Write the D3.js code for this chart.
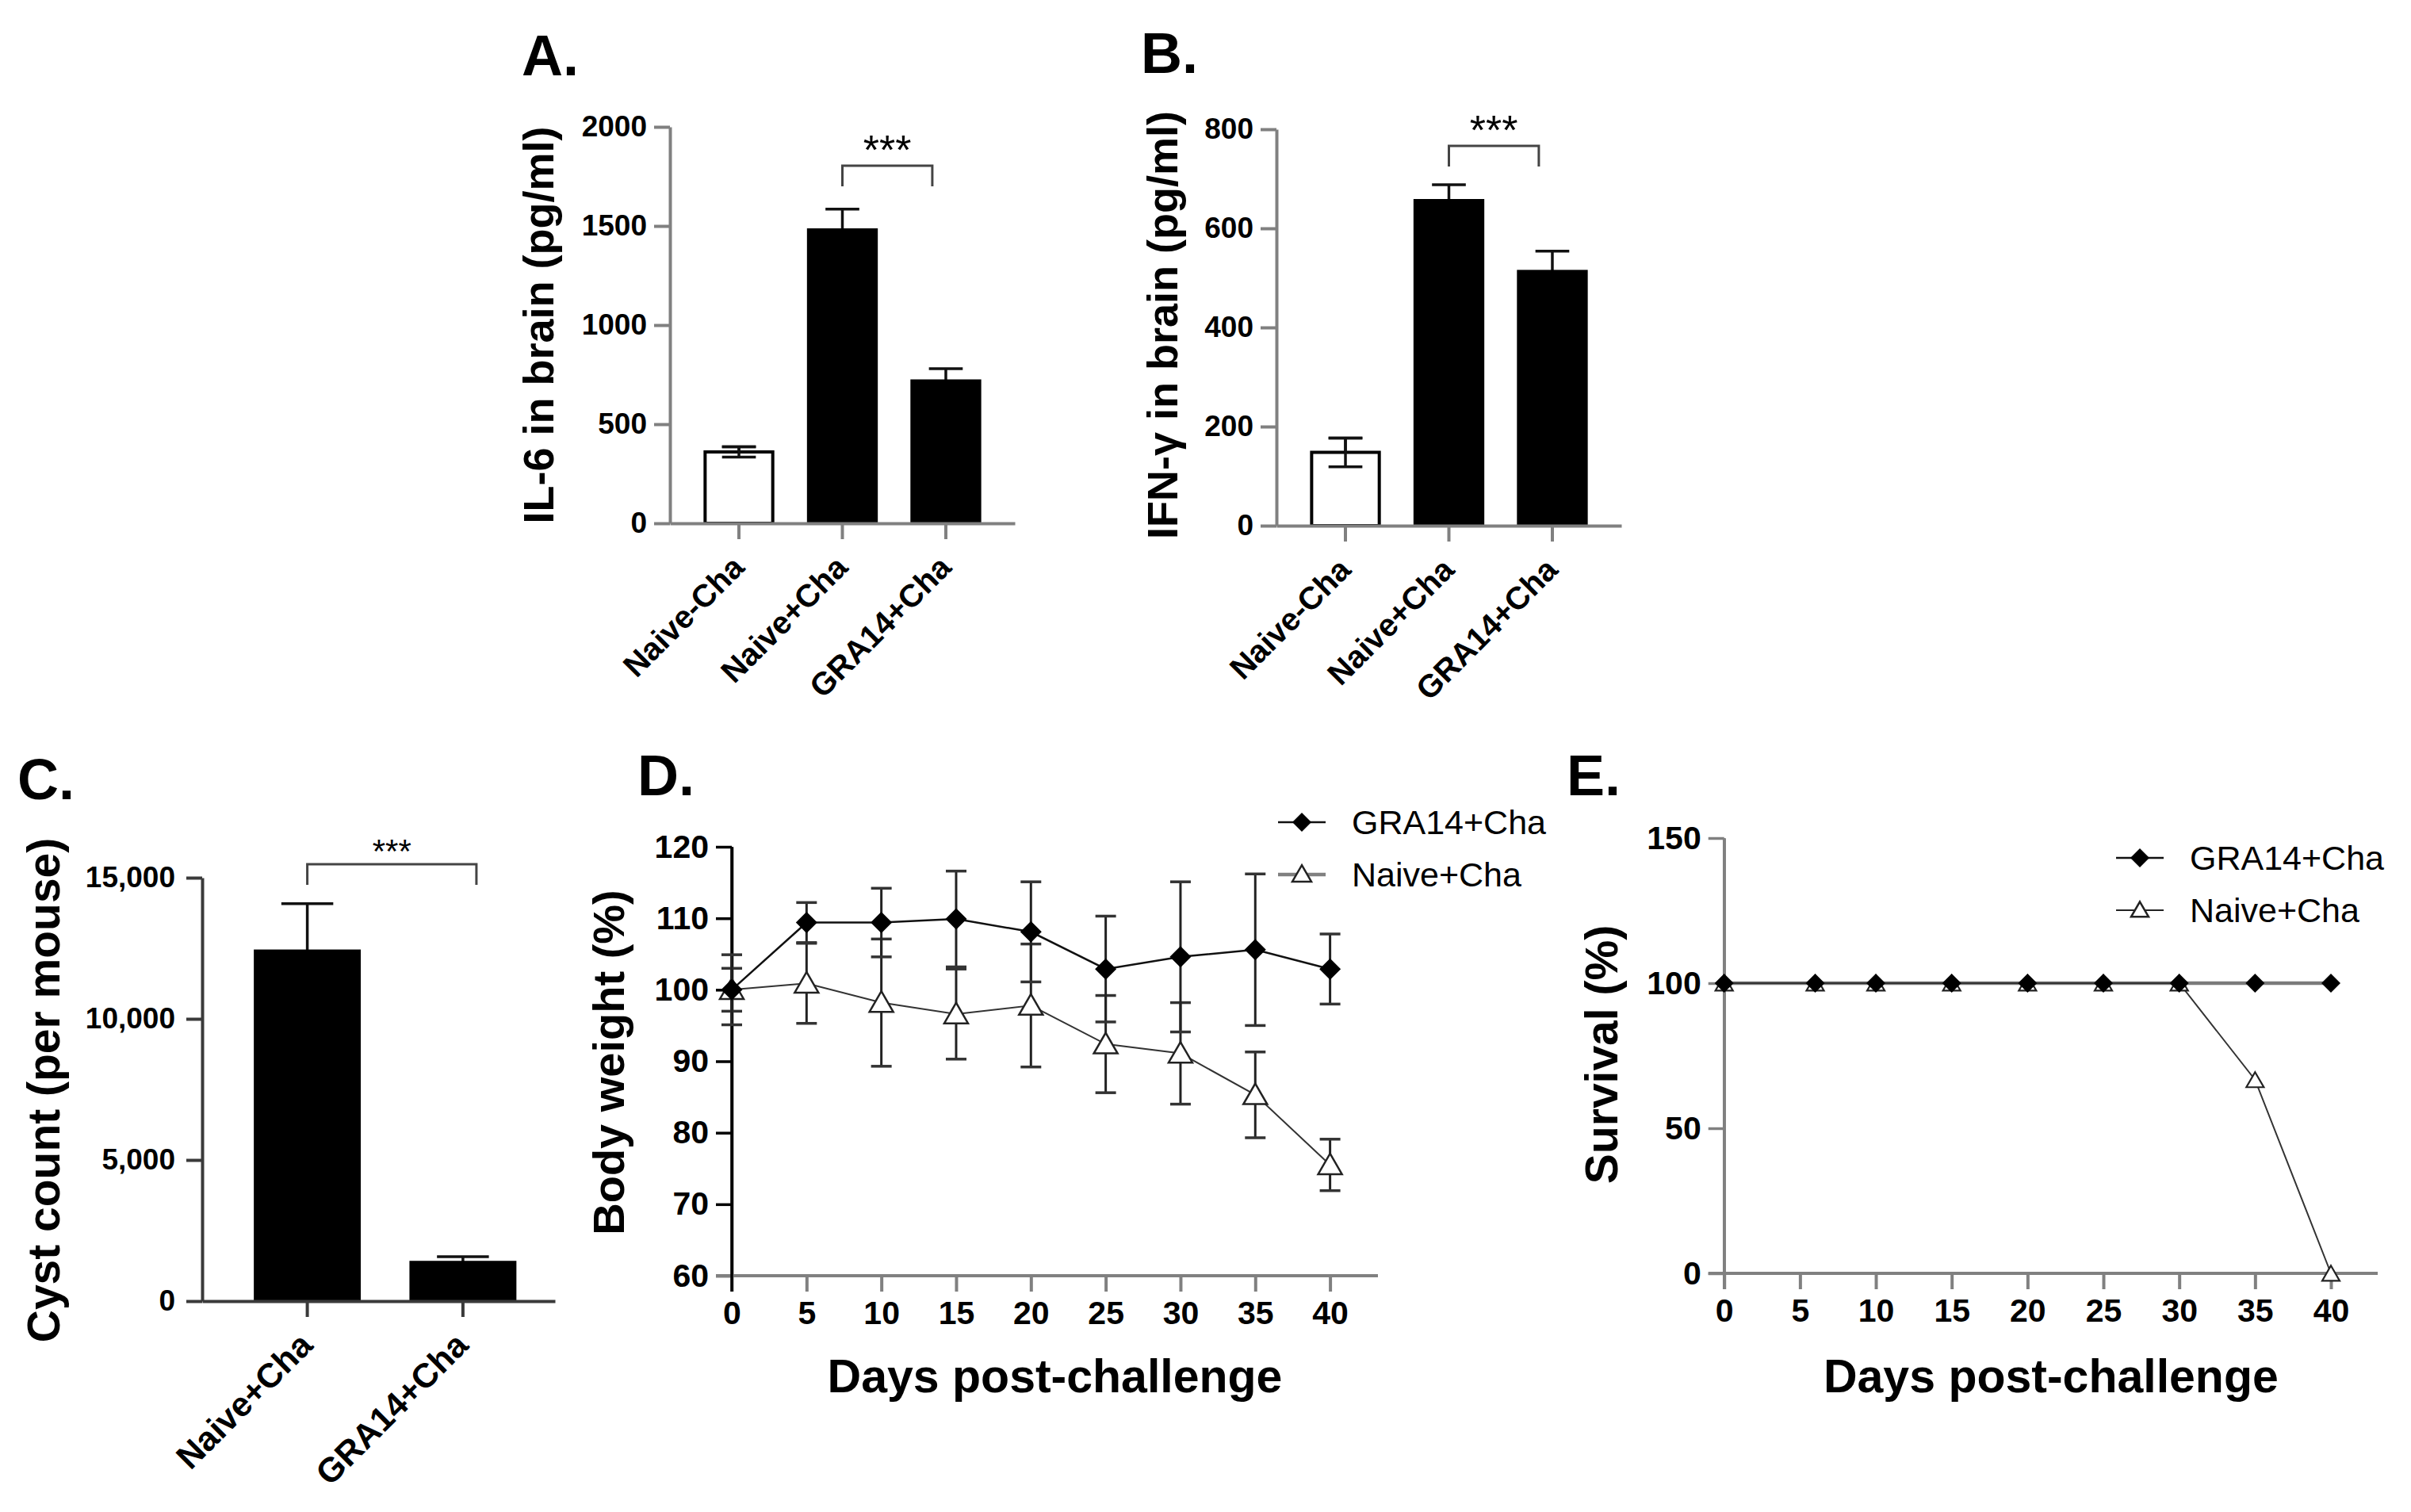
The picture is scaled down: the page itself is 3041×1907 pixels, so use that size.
<!DOCTYPE html>
<html>
<head>
<meta charset="utf-8">
<script src="https://cdn.jsdelivr.net/npm/d3@7.9.0/dist/d3.min.js"></script>
<style>
  html, body { margin: 0; padding: 0; background: #fff; }
  svg text { font-family: "Liberation Sans", Arial, sans-serif; fill: #000; }
</style>
</head>
<body>
<svg id="fig" width="3041" height="1907"></svg>
<script>
// ---- data ----
const groupsAB = ['Naive-Cha', 'Naive+Cha', 'GRA14+Cha'];
const il6Mean = [360, 1480, 718];
const il6Sem = [26, 105, 62];
const il6Ticks = [0, 500, 1000, 1500, 2000];

const ifnMean = [148, 656, 513];
const ifnSem = [29, 32, 41];
const ifnTicks = [0, 200, 400, 600, 800];

const cystGroups = ['Naive+Cha', 'GRA14+Cha'];
const cystMean = [12400, 1370];
const cystSem = [1680, 200];
const cystTicks = [0, 5000, 10000, 15000];

const weightDays = [0, 5, 10, 15, 20, 25, 30, 35, 40];
const weightGra14 = [100, 109.4, 109.4, 109.9, 108.1, 102.9, 104.6, 105.6, 102.9];
const weightGra14Sem = [4.9, 2.8, 4.8, 6.7, 7.0, 7.4, 10.5, 10.6, 4.9];
const weightNaive = [100, 100.9, 98.2, 96.6, 97.8, 92.4, 91.1, 85.3, 75.5];
const weightNaiveSem = [3.0, 5.6, 8.9, 6.3, 8.6, 6.8, 7.1, 6.0, 3.6];
const weightTicks = [60, 70, 80, 90, 100, 110, 120];

const survDays = [0, 6, 10, 15, 20, 25, 30, 35, 40];
const survGra14 = [100, 100, 100, 100, 100, 100, 100, 100, 100];
const survNaive = [100, 100, 100, 100, 100, 100, 100, 66.7, 0];
const survTicks = [0, 50, 100, 150];

const dayTicks = [0, 5, 10, 15, 20, 25, 30, 35, 40];
const seriesNames = ['GRA14+Cha', 'Naive+Cha'];

const svg = d3.select('#fig');
const GREY = '#808080';

function panelLabel(txt, x, y) {
  svg.append('text').attr('x', x).attr('y', y)
    .attr('font-size', 72).attr('font-weight', 'bold').text(txt);
}

function yTitle(txt, x, y, size) {
  svg.append('text')
    .attr('transform', `translate(${x},${y}) rotate(-90)`)
    .attr('text-anchor', 'middle')
    .attr('font-size', size).attr('font-weight', 'bold').text(txt);
}

function styleAxis(g, color, width, fontSize) {
  g.selectAll('.domain').attr('stroke', color).attr('stroke-width', width);
  g.selectAll('.tick line').attr('stroke', color).attr('stroke-width', width);
  g.selectAll('.tick text').attr('font-size', fontSize).attr('font-weight', 'bold').attr('fill', '#000');
}

// ---- bar panels ----
function errorBar(g, cx, hi, lo, half) {
  g.append('line').attr('x1', cx).attr('x2', cx).attr('y1', hi).attr('y2', lo)
    .attr('stroke', '#111').attr('stroke-width', 3.5);
  [hi, lo].forEach(v => g.append('line')
    .attr('x1', cx - half).attr('x2', cx + half).attr('y1', v).attr('y2', v)
    .attr('stroke', '#111').attr('stroke-width', 3.5));
}

function barPanel(o) {
  const x = d3.scaleBand().domain(o.groups).range([o.left, o.right])
    .paddingInner(o.pi).paddingOuter(o.po).align(o.align ?? 0.5);
  const y = d3.scaleLinear().domain([0, o.max]).range([o.bottom, o.top]);
  const g = svg.append('g');
  const bw = x.bandwidth();

  // error bars first, the black bars hide their lower half
  o.groups.forEach((name, i) => errorBar(g, x(name) + bw / 2,
    y(o.means[i] + o.sems[i]), y(o.means[i] - o.sems[i]), bw / 4));

  g.selectAll('rect.bar').data(o.groups).join('rect')
    .attr('class', 'bar')
    .attr('x', d => x(d))
    .attr('width', bw)
    .attr('y', (d, i) => y(o.means[i]))
    .attr('height', (d, i) => y(0) - y(o.means[i]))
    .attr('fill', (d, i) => o.fills[i])
    .attr('stroke', '#000').attr('stroke-width', 4);

  // white bar: its error bar shows over the fill
  o.groups.forEach((name, i) => {
    if (o.fills[i] !== '#fff') return;
    errorBar(g, x(name) + bw / 2, y(o.means[i] + o.sems[i]), y(o.means[i] - o.sems[i]), bw / 4);
  });

  const ya = g.append('g').attr('transform', `translate(${o.left},0)`)
    .call(d3.axisLeft(y).tickValues(o.ticks).tickFormat(o.fmt).tickSize(20).tickSizeOuter(0).tickPadding(o.tickPad));
  styleAxis(ya, o.axisColor, 4, 37);

  const xa = g.append('g').attr('transform', `translate(0,${o.bottom})`)
    .call(d3.axisBottom(x).tickSize(20).tickSizeOuter(0));
  styleAxis(xa, o.axisColor, 4, o.xFont);
  xa.selectAll('.tick text')
    .attr('y', null).attr('dy', null)
    .attr('text-anchor', 'end')
    .attr('transform', 'translate(9,58) rotate(-45)');

  // significance bracket
  const b = o.bracket;
  const bx1 = x(b.from) + bw / 2;
  const bx2 = x(b.to) + bw * b.toFrac;
  g.append('path')
    .attr('d', `M${bx1},${b.y + 26}V${b.y}H${bx2}V${b.y + 26}`)
    .attr('fill', 'none').attr('stroke', '#444').attr('stroke-width', 3);
  g.append('text').attr('x', (bx1 + bx2) / 2).attr('y', b.y - 2)
    .attr('text-anchor', 'middle').attr('font-size', b.size).text('***');

  return { x, y };
}

barPanel({
  groups: groupsAB, means: il6Mean, sems: il6Sem, ticks: il6Ticks, fmt: d3.format('d'),
  left: 845, right: 1280, top: 160, bottom: 660, max: 2000,
  pi: 0.346, po: 0.34, fills: ['#fff', '#000', '#000'], axisColor: GREY, tickPad: 9, xFont: 40,
  bracket: { from: 'Naive+Cha', to: 'GRA14+Cha', toFrac: 0.3, y: 209, size: 52 }
});
panelLabel('A.', 658, 95);
yTitle('IL-6 in brain (pg/ml)', 698, 410, 54);

barPanel({
  groups: groupsAB, means: ifnMean, sems: ifnSem, ticks: ifnTicks, fmt: d3.format('d'),
  left: 1610, right: 2045, top: 163, bottom: 663, max: 800,
  pi: 0.346, po: 0.34, fills: ['#fff', '#000', '#000'], axisColor: GREY, tickPad: 9, xFont: 40,
  bracket: { from: 'Naive+Cha', to: 'GRA14+Cha', toFrac: 0.3, y: 184, size: 52 }
});
panelLabel('B.', 1439, 92);
yTitle('IFN-γ in brain (pg/ml)', 1485, 410, 54);

barPanel({
  groups: cystGroups, means: cystMean, sems: cystSem, ticks: cystTicks, fmt: d3.format(','),
  left: 255, right: 700, top: 1107, bottom: 1641, max: 15000,
  pi: 0.333, po: 0.3, align: 0.57, fills: ['#000', '#000'], axisColor: '#3a3a3a', tickPad: 14, xFont: 43,
  bracket: { from: 'Naive+Cha', to: 'GRA14+Cha', toFrac: 0.63, y: 1090, size: 42 }
});
panelLabel('C.', 22, 1008);
yTitle('Cyst count (per mouse)', 75, 1375, 57);

// ---- line panels ----
function diamond(g, cx, cy, d) {
  g.append('path')
    .attr('d', d3.symbol(d3.symbolSquare, d * d / 2)())
    .attr('transform', `translate(${cx},${cy}) rotate(45)`)
    .attr('fill', '#000');
}
function triangle(g, cx, cy, w, sw) {
  g.append('path')
    .attr('d', d3.symbol(d3.symbolTriangle, Math.sqrt(3) / 4 * w * w)())
    .attr('transform', `translate(${cx},${cy})`)
    .attr('fill', '#fff').attr('stroke', '#222').attr('stroke-width', sw);
}

function legend(g, x, y1, y2, o) {
  g.append('line').attr('x1', x).attr('x2', x + 60).attr('y1', y1).attr('y2', y1)
    .attr('stroke', '#111').attr('stroke-width', 2.5);
  diamond(g, x + 30, y1, o.dia);
  g.append('line').attr('x1', x).attr('x2', x + 60).attr('y1', y2).attr('y2', y2)
    .attr('stroke', o.naiveLegendColor).attr('stroke-width', o.naiveLegendWidth);
  triangle(g, x + 30, y2 + 2, o.tri, 2.5);
  [y1, y2].forEach((yy, i) => g.append('text')
    .attr('x', x + 93).attr('y', yy).attr('dy', '0.36em')
    .attr('font-size', 43).text(seriesNames[i]));
}

function lineAxes(g, x, y, yTicks, left, bottom, xEnd, yColor) {
  const ya = g.append('g').attr('transform', `translate(${left},0)`)
    .call(d3.axisLeft(y).tickValues(yTicks).tickSize(20).tickSizeOuter(0).tickPadding(9));
  styleAxis(ya, yColor, 3.5, 41);
  const xa = g.append('g').attr('transform', `translate(0,${bottom})`)
    .call(d3.axisBottom(x).tickValues(dayTicks).tickSize(20).tickSizeOuter(0).tickPadding(12));
  styleAxis(xa, GREY, 4, 41);
  xa.select('.domain').attr('d', `M${left - 20},0H${xEnd}`);
  // y axis line on top of the x axis, running down to the 0 tick
  g.append('line').attr('x1', left).attr('x2', left).attr('y1', y.range()[1]).attr('y2', bottom + 20)
    .attr('stroke', yColor).attr('stroke-width', 3.5);
}

// D. body weight
(function () {
  const left = 923, bottom = 1609;
  const x = d3.scaleLinear().domain([0, 40]).range([left, 1677.6]);
  const y = d3.scaleLinear().domain([60, 120]).range([bottom, 1068]);
  const g = svg.append('g');
  lineAxes(g, x, y, weightTicks, left, bottom, 1738, '#000');

  const errs = [[weightNaive, weightNaiveSem], [weightGra14, weightGra14Sem]];
  errs.forEach(([m, s]) => weightDays.forEach((d, i) => {
    const cx = x(d), hi = y(m[i] + s[i]), lo = y(m[i] - s[i]);
    g.append('line').attr('x1', cx).attr('x2', cx).attr('y1', hi).attr('y2', lo)
      .attr('stroke', '#222').attr('stroke-width', 3);
    [hi, lo].forEach(v => g.append('line').attr('x1', cx - 13).attr('x2', cx + 13)
      .attr('y1', v).attr('y2', v).attr('stroke', '#333').attr('stroke-width', 3.5));
  }));

  const line = d3.line().x(d => x(d[0])).y(d => y(d[1]));
  g.append('path').attr('d', line(d3.zip(weightDays, weightNaive)))
    .attr('fill', 'none').attr('stroke', '#333').attr('stroke-width', 2);
  g.append('path').attr('d', line(d3.zip(weightDays, weightGra14)))
    .attr('fill', 'none').attr('stroke', '#111').attr('stroke-width', 2.5);
  weightDays.forEach((d, i) => triangle(g, x(d), y(weightNaive[i]) + 3, 30, 2.5));
  weightDays.forEach((d, i) => diamond(g, x(d), y(weightGra14[i]), 27));

  legend(g, 1612, 1037, 1103, { dia: 24, tri: 24, naiveLegendColor: GREY, naiveLegendWidth: 4.5 });

  g.append('text').attr('x', (left + 1738) / 2).attr('y', 1756).attr('text-anchor', 'middle')
    .attr('font-size', 59).attr('font-weight', 'bold').text('Days post-challenge');
})();
panelLabel('D.', 804, 1003);
yTitle('Body weight (%)', 787, 1340, 56);

// E. survival
(function () {
  const left = 2174.7, bottom = 1606;
  const x = d3.scaleLinear().domain([0, 40]).range([left, 2940]);
  const y = d3.scaleLinear().domain([0, 150]).range([bottom, 1057]);
  const g = svg.append('g');
  lineAxes(g, x, y, survTicks, left, bottom, 2999, GREY);

  const line = d3.line().x(d => x(d[0])).y(d => y(d[1]));
  g.append('path').attr('d', line(d3.zip(survDays, survGra14)))
    .attr('fill', 'none').attr('stroke', '#7a7a7a').attr('stroke-width', 4.5);
  g.append('path').attr('d', line(d3.zip(survDays, survNaive)))
    .attr('fill', 'none').attr('stroke', '#333').attr('stroke-width', 2);
  survDays.forEach((d, i) => triangle(g, x(d), y(survNaive[i]) + 3, 22, 2.2));
  survDays.forEach((d, i) => diamond(g, x(d), y(survGra14[i]), 24));

  legend(g, 2669, 1082, 1148, { dia: 24, tri: 22, naiveLegendColor: '#222', naiveLegendWidth: 2 });

  g.append('text').attr('x', (left + 2999) / 2).attr('y', 1756).attr('text-anchor', 'middle')
    .attr('font-size', 59).attr('font-weight', 'bold').text('Days post-challenge');
})();
panelLabel('E.', 1976, 1003);
yTitle('Survival (%)', 2040, 1330, 57);
</script>
</body>
</html>
